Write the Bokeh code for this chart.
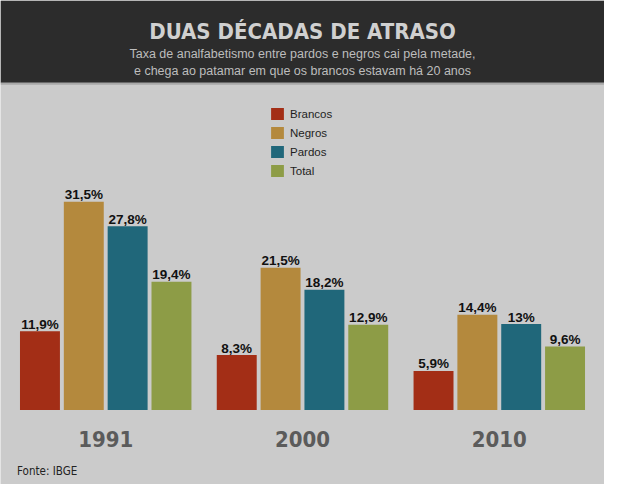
from bokeh.plotting import figure
from bokeh.models import Range1d, BoxAnnotation, Label, Legend, LegendItem, ColumnDataSource
from bokeh.embed import file_html
from bokeh.resources import INLINE
from bokeh.core.properties import value
from bokeh.transform import dodge

# ---- data ----
years = ["1991", "2000", "2010"]
series = ["Brancos", "Negros", "Pardos", "Total"]
brancos = [11.9, 8.3, 5.9]
negros = [31.5, 21.5, 14.4]
pardos = [27.8, 18.2, 13.0]
total = [19.4, 12.9, 9.6]
colors = ["#a32e16", "#b4893d", "#20677a", "#8d9c46"]

title = "DUAS DÉCADAS DE ATRASO"
subtitle1 = "Taxa de analfabetismo entre pardos e negros cai pela metade,"
subtitle2 = "e chega ao patamar em que os brancos estavam há 20 anos"
source_note = "Fonte: IBGE"

COND = "DejaVu Sans Condensed, Roboto, sans-serif"

# ---- geometry (reference-pixel helpers) ----
W, H = 604, 484
BASE_REF, PPU_REF = 423, 6.83
GROUP_REF, C0_REF = 202, 108


def yd(ref):
    return (BASE_REF - ref) / PPU_REF


def xd(ref):
    return (ref - C0_REF) / GROUP_REF


def fmt(v):
    return f"{v:g}".replace(".", ",") + "%"


data = dict(x=list(range(len(years))), year=years)
for name, vals in zip(series, [brancos, negros, pardos, total]):
    data[name] = vals
    data[name + "_lbl"] = [fmt(v) for v in vals]
src = ColumnDataSource(data)

p = figure(width=W, height=H, x_range=Range1d(xd(0), xd(620)), y_range=Range1d(yd(500), yd(0)),
           output_backend="svg", toolbar_location=None, min_border=0,
           x_axis_location=None, y_axis_location=None)
p.grid.visible = False
p.outline_line_color = None
p.background_fill_color = "#cbcbcb"
p.border_fill_color = "#cbcbcb"

# header
p.add_layout(BoxAnnotation(bottom=yd(85), fill_color="#2c2c2c", fill_alpha=1, line_color=None, level="underlay"))
p.add_layout(BoxAnnotation(bottom=yd(87), top=yd(85), fill_color="#a8a8a8", fill_alpha=1, line_color=None, level="underlay"))

step = 45 / GROUP_REF
bw = 41 / GROUP_REF
offs = [-1.5 * step, -0.5 * step, 0.5 * step, 1.5 * step]

items = []
for name, col, off in zip(series, colors, offs):
    r = p.vbar(x=dodge("x", off), top=name, width=bw, bottom=0, source=src,
               fill_color=col, line_color=None)
    p.text(x=dodge("x", off), y=name, text=name + "_lbl", source=src,
           text_align="center", text_baseline="alphabetic", y_offset=-7,
           text_font=value("Liberation Sans"), text_font_style="bold",
           text_font_size="13.5px", text_color="#111111")
    items.append(LegendItem(label=name, renderers=[r]))

# year labels
p.text(x="x", y=yd(453), text="year", source=src, text_align="center",
       text_baseline="alphabetic", text_font=value(COND),
       text_font_style="bold", text_font_size="22px", text_color="#5b5b5b")

legend = Legend(items=items, location=(269, 304), orientation="vertical",
                background_fill_alpha=0, border_line_color=None, padding=0, margin=0,
                glyph_width=16, glyph_height=15, label_standoff=5, label_height=19,
                spacing=0, label_text_font="Liberation Sans", label_text_font_size="11.5px",
                label_text_color="#1e1e1e")
p.add_layout(legend)

p.add_layout(Label(x=xd(310), y=yd(32), text=title, text_align="center", text_baseline="alphabetic",
                   text_font=COND, text_font_style="bold",
                   text_font_size="22px", text_color="#d0d0d0"))
p.add_layout(Label(x=xd(310), y=yd(55), text=subtitle1, text_align="center", text_baseline="alphabetic",
                   text_font="Liberation Sans", text_font_size="12.5px", text_color="#bdbdbd"))
p.add_layout(Label(x=xd(310), y=yd(73.3), text=subtitle2, text_align="center", text_baseline="alphabetic",
                   text_font="Liberation Sans", text_font_size="12.5px", text_color="#bdbdbd"))
p.add_layout(Label(x=xd(17), y=yd(486.5), text=source_note, text_align="left", text_baseline="alphabetic",
                   text_font=COND, text_font_size="11.5px", text_color="#222222"))

open("out.html", "w").write(file_html(p, INLINE))
